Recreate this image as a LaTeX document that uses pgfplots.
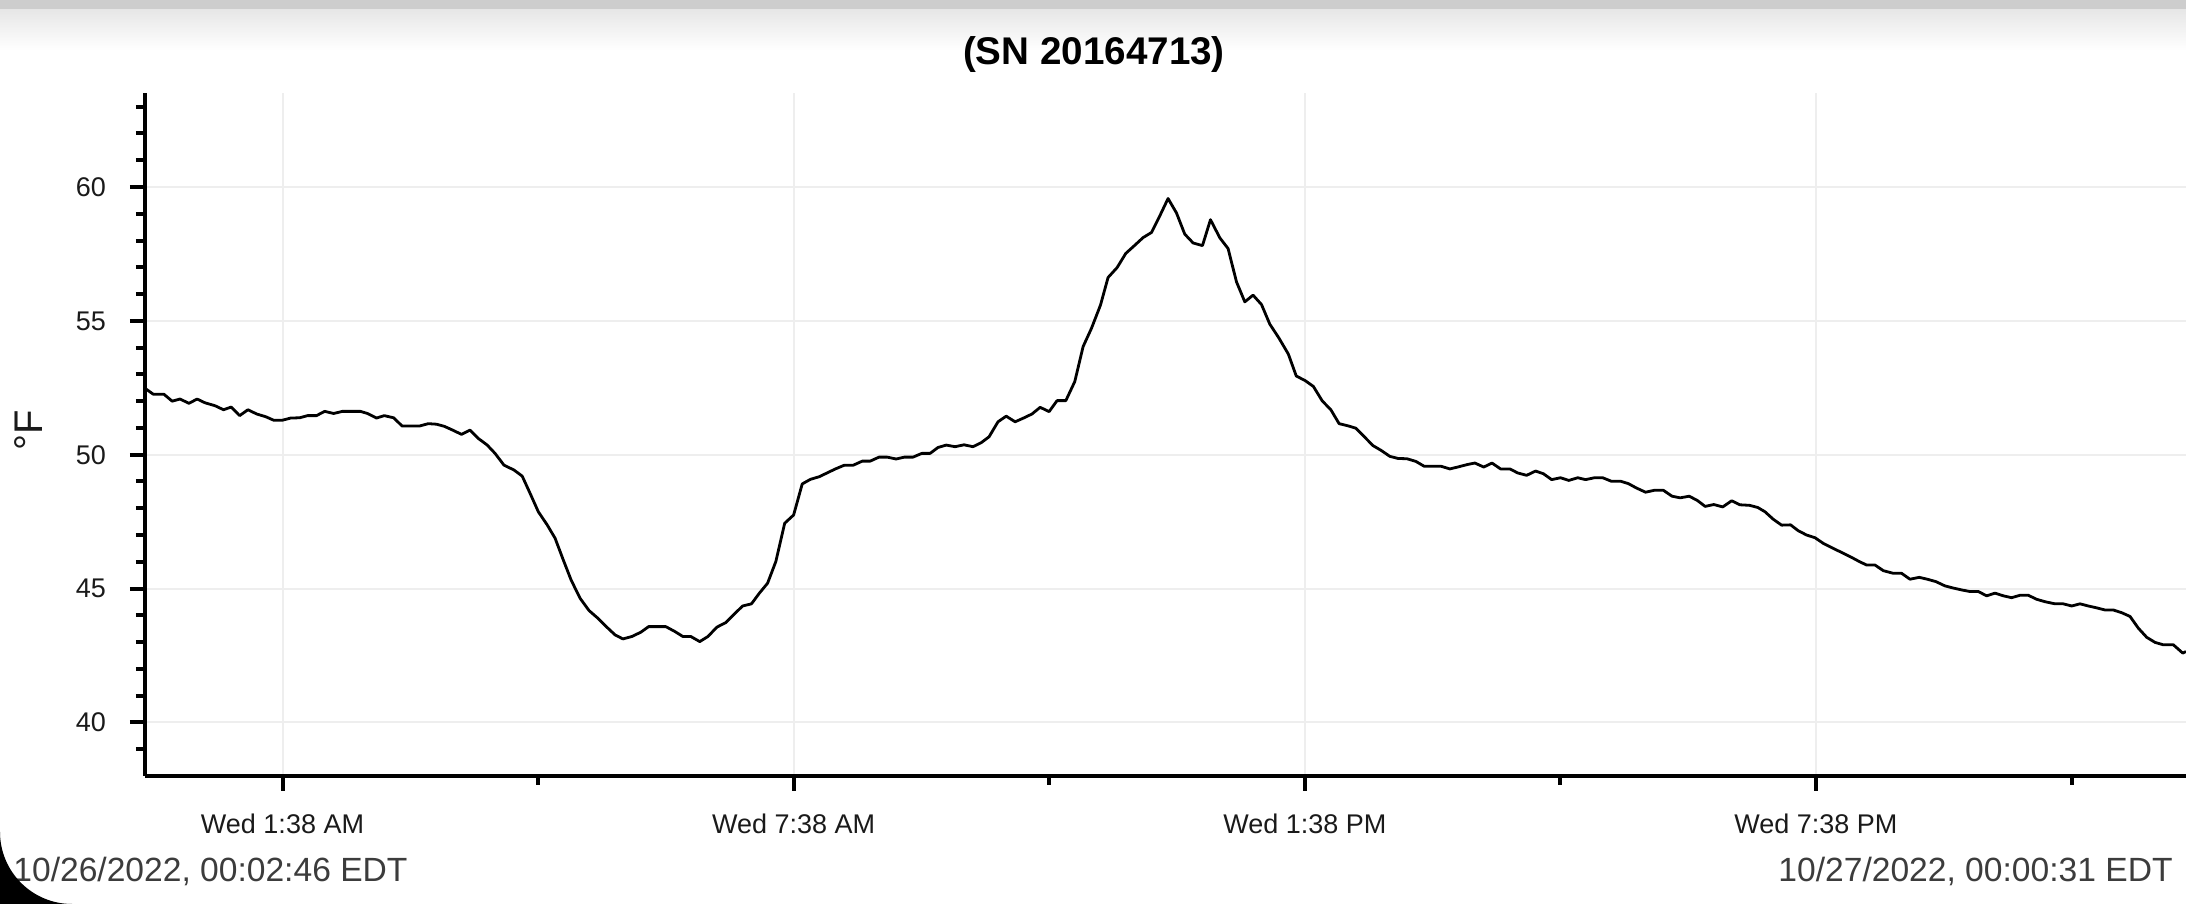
\documentclass[border=0pt]{standalone}
\usepackage{pgfplots}
\pgfplotsset{compat=1.18}
\usepackage{fontspec}
\setmainfont{Liberation Sans}
\definecolor{gridgray}{HTML}{EEEEEE}
\definecolor{footgray}{HTML}{3C3C3C}
\definecolor{topband}{HTML}{CDCDCD}
\definecolor{topfade}{HTML}{E6E6E6}
\definecolor{ticktext}{HTML}{1A1A1A}
\pgfplotstableread{
h T
0.019 52.48
0.116 52.26
0.241 52.26
0.338 52.00
0.430 52.08
0.535 51.92
0.631 52.08
0.723 51.94
0.841 51.83
0.941 51.68
1.030 51.78
1.130 51.46
1.227 51.68
1.331 51.52
1.436 51.42
1.528 51.29
1.633 51.29
1.730 51.37
1.835 51.38
1.927 51.46
2.032 51.46
2.128 51.62
2.233 51.54
2.338 51.62
2.547 51.62
2.631 51.54
2.736 51.37
2.828 51.46
2.937 51.38
3.038 51.07
3.239 51.07
3.344 51.16
3.440 51.14
3.533 51.06
3.637 50.91
3.734 50.76
3.835 50.92
3.931 50.61
4.036 50.36
4.128 50.05
4.233 49.61
4.350 49.43
4.447 49.20
4.539 48.56
4.636 47.87
4.740 47.38
4.833 46.88
4.929 46.07
5.021 45.32
5.126 44.64
5.231 44.18
5.336 43.89
5.440 43.56
5.537 43.27
5.629 43.12
5.734 43.21
5.839 43.37
5.931 43.58
6.132 43.58
6.237 43.40
6.333 43.21
6.426 43.21
6.531 43.02
6.627 43.21
6.732 43.56
6.837 43.73
6.937 44.05
7.034 44.35
7.138 44.43
7.231 44.83
7.327 45.20
7.424 46.01
7.528 47.44
7.633 47.75
7.734 48.91
7.830 49.08
7.935 49.18
8.032 49.33
8.124 49.47
8.229 49.61
8.334 49.61
8.438 49.76
8.531 49.76
8.635 49.91
8.732 49.91
8.836 49.84
8.933 49.91
9.034 49.91
9.138 50.05
9.235 50.05
9.327 50.27
9.424 50.36
9.528 50.30
9.633 50.37
9.738 50.30
9.835 50.45
9.927 50.67
10.032 51.23
10.128 51.44
10.233 51.23
10.325 51.36
10.430 51.52
10.527 51.77
10.632 51.61
10.725 52.02
10.828 52.02
10.933 52.73
11.031 54.04
11.129 54.72
11.235 55.59
11.324 56.62
11.430 56.99
11.532 57.52
11.626 57.79
11.735 58.11
11.833 58.30
11.931 58.92
12.028 59.57
12.127 59.03
12.224 58.24
12.322 57.91
12.432 57.81
12.526 58.78
12.636 58.10
12.733 57.70
12.831 56.46
12.929 55.71
13.026 55.96
13.125 55.61
13.222 54.88
13.331 54.35
13.440 53.76
13.533 52.94
13.637 52.77
13.734 52.55
13.838 52.01
13.939 51.68
14.036 51.16
14.140 51.08
14.233 50.99
14.329 50.68
14.434 50.34
14.530 50.16
14.631 49.94
14.728 49.86
14.832 49.85
14.937 49.75
15.034 49.57
15.231 49.57
15.336 49.47
15.428 49.54
15.537 49.63
15.629 49.69
15.734 49.54
15.830 49.69
15.931 49.47
16.040 49.47
16.132 49.32
16.237 49.23
16.342 49.39
16.434 49.29
16.531 49.07
16.635 49.14
16.732 49.04
16.837 49.14
16.929 49.07
17.034 49.14
17.130 49.14
17.231 49.01
17.340 49.01
17.432 48.92
17.524 48.76
17.633 48.60
17.734 48.67
17.843 48.67
17.944 48.45
18.040 48.39
18.145 48.45
18.237 48.30
18.333 48.07
18.434 48.14
18.539 48.05
18.644 48.28
18.740 48.13
18.853 48.11
18.950 48.03
19.035 47.87
19.132 47.59
19.230 47.37
19.336 47.38
19.426 47.16
19.524 47.00
19.622 46.90
19.719 46.69
19.837 46.50
19.954 46.32
20.072 46.13
20.142 46.01
20.228 45.88
20.326 45.88
20.424 45.67
20.541 45.57
20.639 45.57
20.737 45.35
20.846 45.42
20.940 45.35
21.042 45.26
21.148 45.10
21.246 45.02
21.344 44.95
21.441 44.89
21.539 44.89
21.637 44.73
21.735 44.83
21.833 44.73
21.930 44.66
22.029 44.75
22.126 44.75
22.224 44.60
22.322 44.51
22.440 44.43
22.537 44.43
22.635 44.35
22.733 44.43
22.831 44.35
22.929 44.28
23.027 44.20
23.124 44.20
23.222 44.10
23.320 43.96
23.418 43.52
23.516 43.18
23.614 42.99
23.711 42.90
23.829 42.90
23.939 42.59
23.977 42.65
}\tempdata
\begin{document}
\begin{tikzpicture}
\path[use as bounding box] (0pt,0pt) rectangle (1093pt,452pt);
\fill[white] (0pt,0pt) rectangle (1093pt,452pt);
% top shadow band
\shade[top color=topfade, bottom color=white] (0pt,427pt) rectangle (1093pt,447.5pt);
\fill[topband] (0pt,447.5pt) rectangle (1093pt,452pt);
\begin{axis}[
  at={(72.5pt,64pt)}, anchor=south west,
  scale only axis, width=1020.5pt, height=341.35pt,
  xmin=0.019, xmax=23.977, ymin=38, ymax=63.5,
  axis x line*=bottom, axis y line*=left,
  axis line style={line width=2pt, -},
  xtick={1.6333,7.6333,13.6333,19.6333},
  xticklabels={Wed 1:38 AM, Wed 7:38 AM, Wed 1:38 PM, Wed 7:38 PM},
  minor xtick={4.6333,10.6333,16.6333,22.6333},
  ytick={40,45,50,55,60},
  minor ytick={39,41,42,43,44,46,47,48,49,51,52,53,54,56,57,58,59,61,62,63},
  tick align=outside,
  major tick length=7.5pt, minor tick length=4.5pt,
  every tick/.style={black, line width=2pt},
  xmajorgrids, ymajorgrids,
  major grid style={gridgray, line width=1pt},
  /pgf/number format/assume math mode=true,
  ticklabel style={font=\fontsize{13.5}{16}\selectfont, text=ticktext},
  xticklabel style={yshift=-8pt},
  yticklabel style={xshift=-8.5pt},
  clip=true,
]
\addplot[black, line width=1.4pt, line join=round, mark=none] table[x=h, y=T] {\tempdata};
\end{axis}
% y label
\node[rotate=90, anchor=center, font=\fontsize{20}{24}\selectfont, text=ticktext] at (14.5pt,237pt) {°F};
% title
\node[anchor=base, inner sep=0pt, font=\bfseries\fontsize{19.3}{23}\selectfont] at (547pt,419.5pt) {(SN 20164713)};
% footers
\node[anchor=base west, inner sep=0pt, text=footgray, font=\fontsize{16.8}{20}\selectfont] at (6.5pt,11.2pt) {10/26/2022, 00:02:46 EDT};
\node[anchor=base east, inner sep=0pt, text=footgray, font=\fontsize{16.8}{20}\selectfont] at (1086.5pt,11.2pt) {10/27/2022, 00:00:31 EDT};
% rounded screen corner
\fill[black] (0pt,0pt) -- (36pt,0pt) arc[start angle=270, end angle=180, radius=36pt] -- cycle;
\end{tikzpicture}
\end{document}
